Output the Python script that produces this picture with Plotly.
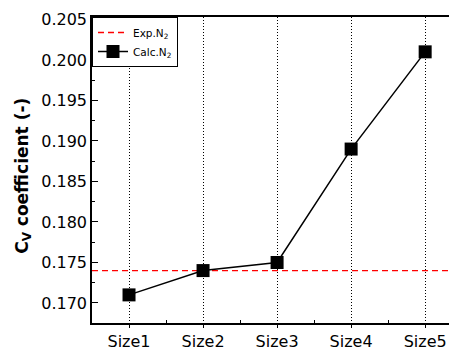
import plotly.graph_objects as go

categories = ["Size1", "Size2", "Size3", "Size4", "Size5"]
calc_n2 = [0.171, 0.174, 0.175, 0.189, 0.201]
exp_n2 = 0.174
y_ticks = [0.170, 0.175, 0.180, 0.185, 0.190, 0.195, 0.200, 0.205]

xpos = list(range(1, len(categories) + 1))
x_range = [0.5, 5.43]
y_range = [0.16753, 0.2053]

FONT = "DejaVu Sans"

fig = go.Figure()
fig.add_trace(go.Scatter(
    x=x_range, y=[exp_n2, exp_n2], mode="lines",
    line=dict(color="red", width=1.3, dash="6px,4px"),
    name="Exp.N<sub>2</sub>"))
fig.add_trace(go.Scatter(
    x=xpos, y=calc_n2, mode="lines+markers",
    line=dict(color="black", width=1.5),
    marker=dict(symbol="square", size=13, color="black"),
    name="Calc.N<sub>2</sub>"))

# the page body adds an 8px offset; the figure is sized to fit the window
fig.update_layout(
    width=449, height=339,
    margin=dict(l=84, r=0, t=9, b=24),
    paper_bgcolor="white", plot_bgcolor="white",
    font=dict(family=FONT, size=12, color="black"),
    showlegend=True,
    legend=dict(x=0, y=1, xanchor="left", yanchor="top",
                bgcolor="white", bordercolor="black", borderwidth=1,
                font=dict(family=FONT, size=10.5), tracegroupgap=0,
                itemwidth=30),
    xaxis=dict(range=x_range, tickvals=xpos, ticktext=categories,
               automargin=False,
               showline=True, linecolor="black", linewidth=1.5, mirror=True,
               showgrid=True, gridcolor="black", griddash="1px,2px", gridwidth=1,
               ticks="outside", ticklen=3, tickcolor="black",
               minor=dict(tickvals=[1.5, 2.5, 3.5, 4.5], ticks="inside", ticklen=3, tickcolor="black"),
               zeroline=False, tickfont=dict(size=16)),
    yaxis=dict(range=y_range, tickvals=y_ticks, automargin=False,
               ticktext=[f"{v:.3f}" for v in y_ticks],
               showline=True, linecolor="black", linewidth=1.5, mirror=False,
               showgrid=False, ticks="inside", ticklen=6, tickcolor="black",
               minor=dict(dtick=0.0025, ticks="inside", ticklen=3, tickcolor="black"),
               zeroline=False, tickfont=dict(size=16)),
)

fig.add_annotation(
    text="<b>C<sub>V</sub> coefficient (-)</b>",
    xref="paper", yref="paper", x=-0.19, y=0.48,
    xanchor="center", yanchor="middle", textangle=-90,
    showarrow=False, font=dict(family=FONT, size=17, color="black"))

fig.write_html("out.html")
